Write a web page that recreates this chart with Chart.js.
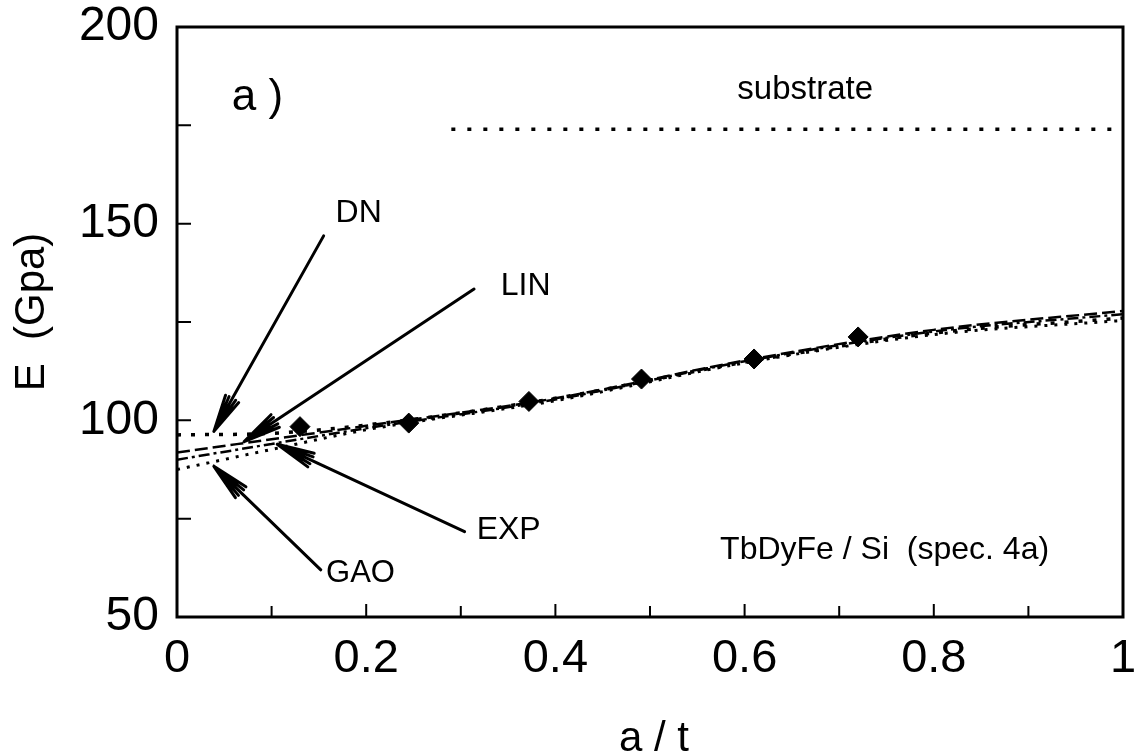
<!DOCTYPE html>
<html>
<head>
<meta charset="utf-8">
<script src="https://cdn.jsdelivr.net/npm/chart.js@4.4.1/dist/chart.umd.min.js"></script>
<style>
  html, body { margin: 0; padding: 0; background: #fff; }
  #wrap { width: 1138px; height: 755px; }
</style>
</head>
<body>
<div id="wrap"><canvas id="modulus-chart" width="1138" height="755"></canvas></div>
<script>
// measured points, E (GPa) against a/t
const aOverT = [0.13, 0.245, 0.372, 0.491, 0.61, 0.72];
const modulusE = [98.4, 99.3, 104.8, 110.5, 115.6, 121.2];

// fit curves
const fitX = [0, 0.1, 0.2, 0.4, 0.6, 0.8, 1];
const dnFit = [96.3, 96.7, 98.8, 105.6, 114.8, 122.2, 126.0];
const linFit = [91.8, 95.2, 98.6, 105.6, 115.2, 123.0, 127.8];
const expFit = [90.0, 94.0, 98.0, 105.3, 115.0, 122.6, 127.0];
const gaoFit = [87.5, 92.6, 97.6, 105.0, 114.6, 121.8, 125.4];

const substrateX = [0.29, 1];
const substrateE = [174, 174];

const xTicks = [0, 0.1, 0.2, 0.3, 0.4, 0.5, 0.6, 0.7, 0.8, 0.9, 1];
const yTicks = [50, 75, 100, 125, 150, 175, 200];

const toPoints = (xs, ys) => xs.map((x, i) => ({ x: x, y: ys[i] }));

const FONT = '"Liberation Sans", Arial, Helvetica, sans-serif';

// labels and arrows, anchored in data units
const notes = [
    { text: 'a )', x: 0.085, y: 181.9, size: 44 },
    { text: 'substrate', x: 0.664, y: 183.9, size: 33 },
    { text: 'DN', x: 0.192, y: 152.6, size: 32 },
    { text: 'LIN', x: 0.3685, y: 134.2, size: 32 },
    { text: 'EXP', x: 0.3506, y: 72.2, size: 32 },
    { text: 'GAO', x: 0.194, y: 61.0, size: 31 },
    { text: 'TbDyFe / Si  (spec. 4a)', x: 0.748, y: 67.1, size: 32 }
];
const arrows = [
    { from: [0.155, 146.9], to: [0.039, 97.2] },
    { from: [0.314, 133.4], to: [0.071, 94.6] },
    { from: [0.304, 71.7], to: [0.106, 93.9] },
    { from: [0.152, 62.0], to: [0.039, 88.3] }
];

const framePlugin = {
    id: 'frame',
    afterDatasetsDraw(chart) {
        const { ctx, chartArea: area, scales } = chart;
        const xs = scales.x, ys = scales.y;
        ctx.save();
        ctx.strokeStyle = '#000';
        ctx.lineWidth = 3;
        ctx.strokeRect(area.left, area.top, area.right - area.left, area.bottom - area.top);

        // inward ticks
        ctx.lineWidth = 2;
        ctx.beginPath();
        xTicks.forEach(v => {
            const px = xs.getPixelForValue(v);
            const len = Math.round(v * 10) % 2 === 0 ? 13 : 11;
            ctx.moveTo(px, area.bottom);
            ctx.lineTo(px, area.bottom - len);
        });
        yTicks.forEach(v => {
            const py = ys.getPixelForValue(v);
            ctx.moveTo(area.left, py);
            ctx.lineTo(area.left + 14, py);
        });
        ctx.stroke();

        // annotations
        ctx.fillStyle = '#000';
        ctx.textAlign = 'center';
        ctx.textBaseline = 'middle';
        notes.forEach(n => {
            ctx.font = n.size + 'px ' + FONT;
            ctx.fillText(n.text, xs.getPixelForValue(n.x), ys.getPixelForValue(n.y));
        });

        ctx.lineWidth = 3;
        ctx.lineCap = 'round';
        arrows.forEach(a => {
            const x1 = xs.getPixelForValue(a.from[0]), y1 = ys.getPixelForValue(a.from[1]);
            const x2 = xs.getPixelForValue(a.to[0]), y2 = ys.getPixelForValue(a.to[1]);
            const ang = Math.atan2(y2 - y1, x2 - x1);
            ctx.beginPath();
            ctx.moveTo(x1, y1);
            ctx.lineTo(x2, y2);
            [-0.2, -0.1, 0.1, 0.2].forEach(d => {
                ctx.moveTo(x2, y2);
                ctx.lineTo(x2 - 38 * Math.cos(ang + d), y2 - 38 * Math.sin(ang + d));
            });
            ctx.stroke();
        });

        // axis titles
        ctx.font = '42px ' + FONT;
        ctx.fillText('a / t', (area.left + area.right) / 2 + 4, 739);
        ctx.translate(32, 312);
        ctx.rotate(-Math.PI / 2);
        ctx.fillText('E  (Gpa)', 0, 0);
        ctx.restore();
    }
};

const fitLine = (label, ys, dash, width) => ({
    label: label,
    data: toPoints(fitX, ys),
    showLine: true,
    borderColor: '#000',
    borderWidth: width,
    borderDash: dash,
    pointRadius: 0,
    cubicInterpolationMode: 'monotone',
    fill: false
});

new Chart(document.getElementById('modulus-chart'), {
    type: 'scatter',
    data: {
        datasets: [
            {
                label: 'measured',
                data: toPoints(aOverT, modulusE),
                pointStyle: 'rectRot',
                pointRadius: 10,
                backgroundColor: '#000',
                borderColor: '#000'
            },
            fitLine('DN', dnFit, [4, 10], 3.5),
            fitLine('LIN', linFit, [13, 5], 2.5),
            fitLine('EXP', expFit, [11, 4, 3, 4], 2.5),
            fitLine('GAO', gaoFit, [3, 7], 3),
            {
                label: 'substrate',
                data: toPoints(substrateX, substrateE),
                showLine: true,
                borderColor: '#000',
                borderWidth: 3.5,
                borderDash: [4, 12],
                pointRadius: 0
            }
        ]
    },
    options: {
        responsive: false,
        animation: false,
        layout: { padding: { left: 0, right: 15, top: 27, bottom: 0 } },
        plugins: {
            legend: { display: false },
            tooltip: { enabled: false }
        },
        scales: {
            x: {
                type: 'linear',
                min: 0,
                max: 1,
                afterFit: scale => {
                    scale.height = 138;
                    scale.paddingLeft = 0;
                    scale.paddingRight = 0;
                },
                border: { display: false },
                grid: { display: false },
                ticks: {
                    stepSize: 0.1,
                    padding: 6,
                    color: '#000',
                    font: { family: FONT, size: 47 },
                    maxRotation: 0,
                    autoSkip: false,
                    callback: v => {
                        const r = Math.round(v * 10);
                        return r % 2 === 0 ? String(r / 10) : '';
                    }
                }
            },
            y: {
                min: 50,
                max: 200,
                afterFit: scale => {
                    scale.width = 177;
                    scale.paddingTop = 0;
                    scale.paddingBottom = 0;
                },
                border: { display: false },
                grid: { display: false },
                ticks: {
                    stepSize: 25,
                    padding: 10,
                    color: '#000',
                    font: { family: FONT, size: 48 },
                    callback: v => (v % 50 === 0 ? v : '')
                }
            }
        }
    },
    plugins: [framePlugin]
});
</script>
</body>
</html>
